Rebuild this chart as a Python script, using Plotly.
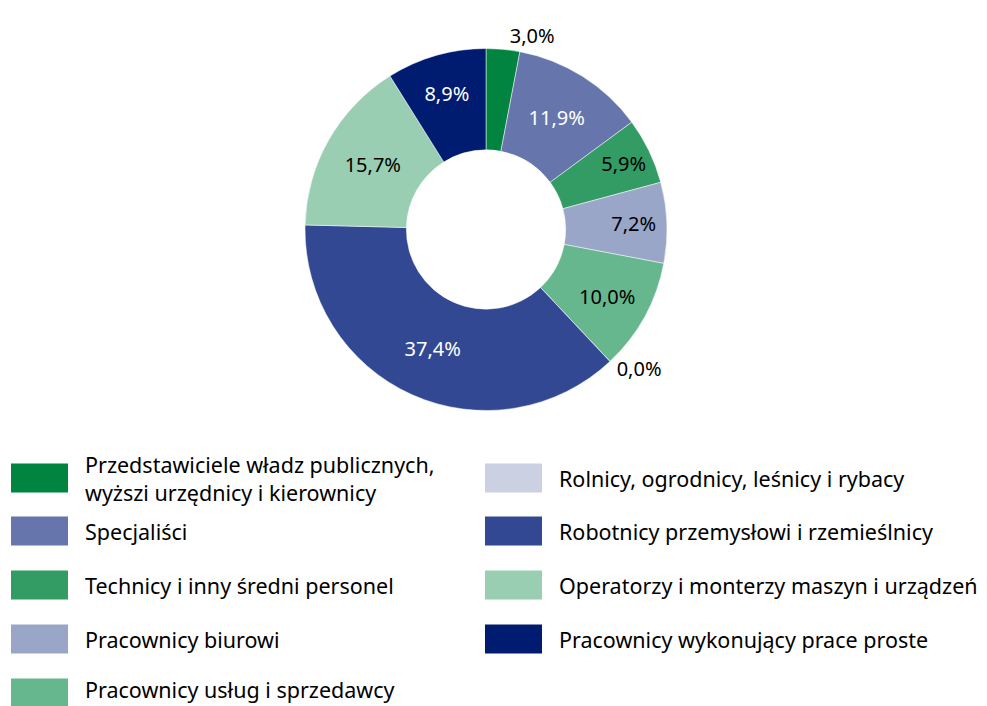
import plotly.graph_objects as go

categories = [
    "Przedstawiciele władz publicznych,<br>wyższi urzędnicy i kierownicy",
    "Specjaliści",
    "Technicy i inny średni personel",
    "Pracownicy biurowi",
    "Pracownicy usług i sprzedawcy",
    "Rolnicy, ogrodnicy, leśnicy i rybacy",
    "Robotnicy przemysłowi i rzemieślnicy",
    "Operatorzy i monterzy maszyn i urządzeń",
    "Pracownicy wykonujący prace proste",
]
values = [3.0, 11.9, 5.9, 7.2, 10.0, 0.0, 37.4, 15.7, 8.9]
colors = ["#00843F", "#6675AB", "#339C64", "#99A6C8", "#66B78D",
          "#CBD0E3", "#334893", "#99CEB2", "#001C71"]
text_colors = ["black", "white", "black", "black", "black",
               "black", "white", "black", "white"]
positions = ["outside", "inside", "inside", "inside", "inside",
             "outside", "inside", "inside", "inside"]

FONT = "Noto Sans"
# page body has an 8px margin; figure placed so that it lines up with the reference
OFF = 8
W, H = 987 - OFF, 706 - OFF


def px(x):
    return (x - OFF) / W


def py(y):
    return 1 - (y - OFF) / H


labels_txt = [f"{v:.1f}%".replace(".", ",") for v in values]

fig = go.Figure()
fig.add_trace(go.Pie(
    labels=[c.replace("<br>", " ") for c in categories],
    values=values,
    text=labels_txt,
    textinfo="text",
    textposition=positions,
    insidetextorientation="horizontal",
    textfont=dict(family=FONT, size=20, color=text_colors),
    outsidetextfont=dict(family=FONT, size=20, color="black"),
    marker=dict(colors=colors, line=dict(color="white", width=0.5)),
    hole=0.44,
    sort=False,
    direction="clockwise",
    rotation=0,
    automargin=False,
    showlegend=False,
    domain=dict(x=[px(305), px(667)], y=[py(411), py(48)]),
))

# custom two-column legend
col_x = [11, 485]
text_x = [83, 557]
row_y = [478, 531, 585, 639, 689]
shapes = []
annotations = []
for i, (cat, col) in enumerate(zip(categories, colors)):
    c = 0 if i < 5 else 1
    r = i if i < 5 else i - 5
    yc = row_y[r]
    shapes.append(dict(type="rect", xref="paper", yref="paper",
                       x0=px(col_x[c]), x1=px(col_x[c] + 57),
                       y0=py(row_y[r] + 14.5 if r < 4 else 693 + 14.5),
                       y1=py(row_y[r] - 14.5 if r < 4 else 693 - 14.5),
                       fillcolor=col, line=dict(width=0)))
    annotations.append(dict(xref="paper", yref="paper",
                            x=px(text_x[c]), y=py(yc),
                            xanchor="left", yanchor="middle", align="left",
                            text=cat, showarrow=False,
                            font=dict(family=FONT, size=21.5, color="black")))

fig.update_layout(
    width=W, height=H,
    margin=dict(l=0, r=0, t=0, b=0),
    paper_bgcolor="white", plot_bgcolor="white",
    shapes=shapes, annotations=annotations,
)
fig.write_html("out.html")
